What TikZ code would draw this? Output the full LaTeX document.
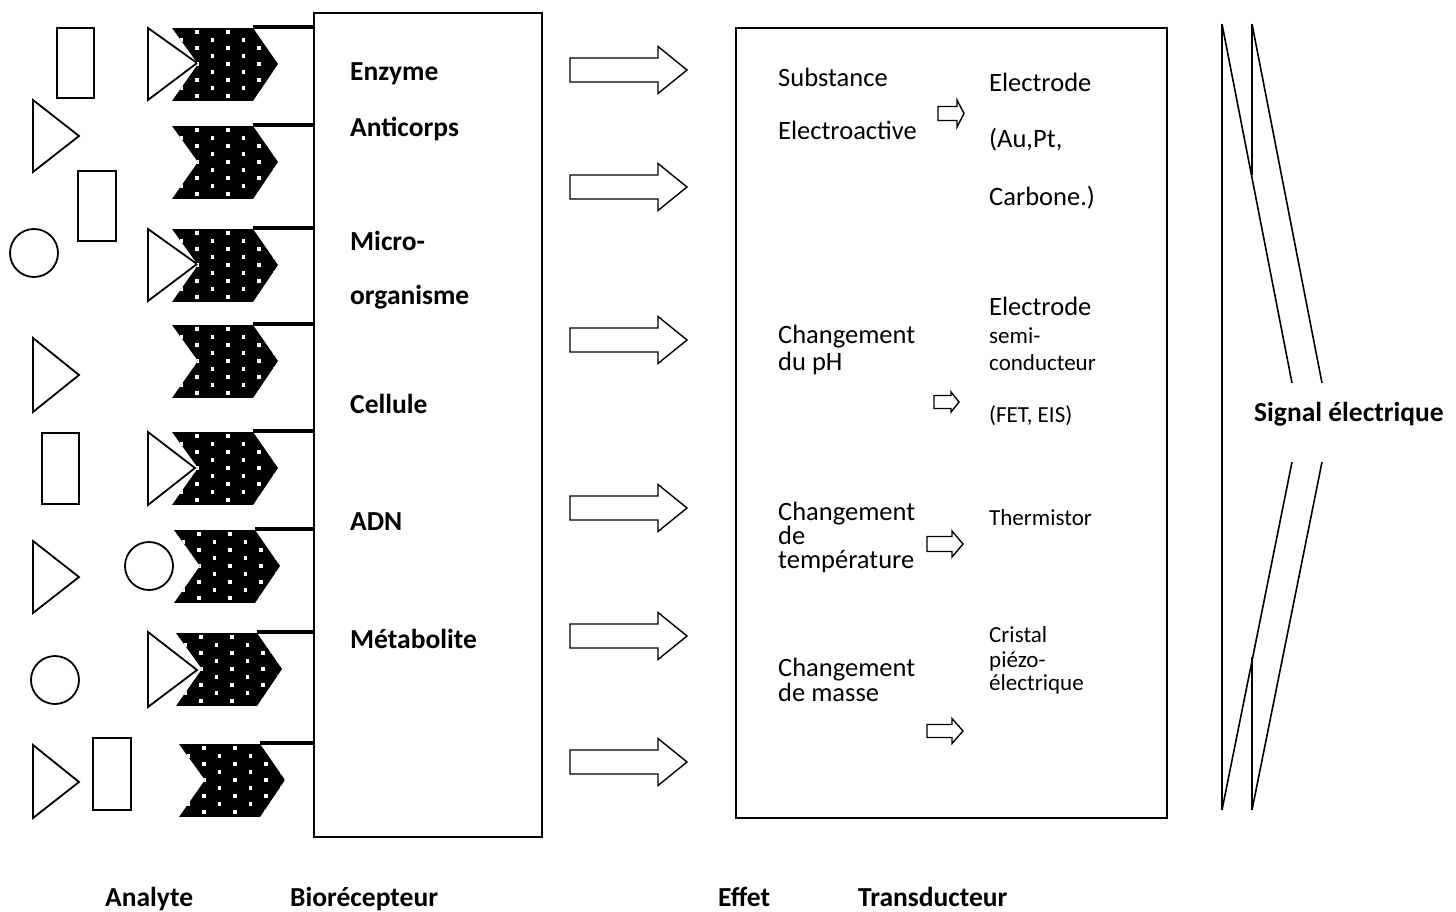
\documentclass[tikz,border=0pt]{standalone}
\usepackage{fontspec}
\setmainfont{Carlito}
\usepackage{tikz}

% recepteur (chevron with white dots) at top-left corner #1,#2
\newcommand{\recep}[2]{%
\begin{scope}[shift={(#1,#2)}]
\begin{scope}
\path[clip] (0,0) -- (81,0) -- (106,36) -- (81,73) -- (0,73) -- (26,36) -- cycle;
\fill[black] (0,0) rectangle (106,73);
\foreach \r in {0,...,8}
  \foreach \c in {-1,...,3}
    \fill[white] ({25+31*\c-15.5*mod(\r,2)-1.6},{4+8*\r-1.6}) rectangle +(3.3,3.3);
\end{scope}
\end{scope}}

% block arrow: tail x, centre y, length, half shaft, head start, half head
\newcommand{\flech}[6]{%
\draw[line width=1.4pt] (#1,#2-#4) -- (#5,#2-#4) -- (#5,#2-#6) -- (#1+#3,#2)
  -- (#5,#2+#6) -- (#5,#2+#4) -- (#1,#2+#4) -- cycle;}

\begin{document}
\begin{tikzpicture}[x=1pt,y=-1pt]
\tikzstyle{analyte}=[draw,line width=1.8pt]
\tikzstyle{link}=[draw,line width=4pt]
\tikzstyle{sig}=[draw,line width=1.6pt]
\tikzstyle{boite}=[draw,line width=2pt,inner sep=0pt]
\tikzstyle{lab}=[font=\fontsize{27.5}{32}\selectfont\bfseries,inner sep=0pt,anchor=base west]
\tikzstyle{txt}=[font=\fontsize{26.5}{31}\selectfont,inner sep=0pt,anchor=base west]
\tikzstyle{petit}=[font=\fontsize{23}{27}\selectfont,inner sep=0pt,anchor=base west]

\useasboundingbox (0,0) rectangle (1456,912);

% boxes
\node[boite,minimum width=228pt,minimum height=824pt] (bio) at (428,425) {};
\node[boite,minimum width=431pt,minimum height=790pt] (trans) at (951.5,423) {};

% analytes
\draw[analyte] (57,28) rectangle (94,98);
\draw[analyte] (33,100) -- (79,136) -- (33,172) -- cycle;
\draw[analyte] (78,171) rectangle (116,241);
\draw[analyte] (34,253) circle (24pt);
\draw[analyte] (33,338) -- (79,375) -- (33,412) -- cycle;
\draw[analyte] (42,433) rectangle (79,504);
\draw[analyte] (33,541) -- (79,577) -- (33,613) -- cycle;
\draw[analyte] (55,680) circle (24pt);
\draw[analyte] (33,745) -- (79,782) -- (33,818) -- cycle;
\draw[analyte] (93,738) rectangle (131,810);

% fixed analytes
\draw[analyte] (148,28) -- (197,63) -- (148,100) -- cycle;
\draw[analyte] (148,229) -- (197,264) -- (148,301) -- cycle;
\draw[analyte] (148,432) -- (195,468) -- (148,505) -- cycle;
\draw[analyte] (149,566) circle (24pt);
\draw[analyte] (148,632) -- (197,670) -- (148,707) -- cycle;

% bioreceptors
\foreach \i/\xx/\yy in {1/172/28,2/172/126,3/172/229,4/172/325,5/172/432,6/174/530,7/176/633,8/179/744}{
  \recep{\xx}{\yy}
  \coordinate (c\i) at (\xx+81,\yy-1);
  \path[link] (c\i) -- (c\i -| bio.west);
}

\node[lab] (enz) at (350,81) {Enzyme};
\node[lab] (anti) at (350,137) {Anticorps};
\node[lab] (micro) at (350,250) {Micro-};
\node[lab] (orga) at (350,304) {organisme};
\node[lab] (cell) at (350,413) {Cellule};
\node[lab] (adn) at (350,530) {ADN};
\node[lab] (meta) at (350,648) {Métabolite};

% effects
\flech{570}{70}{117}{12}{658}{23.5}
\flech{570}{187}{117}{12}{658}{23.5}
\flech{570}{340}{117}{12}{658}{23.5}
\flech{570}{508}{117}{12}{658}{23.5}
\flech{570}{636}{117}{12}{658}{23.5}
\flech{570}{762}{117}{12}{658}{23.5}

% transducteur
\node[txt] (sub) at (778,87) {Substance};
\node[txt] (elac) at (778,140) {Electroactive};
\node[txt] (elec) at (989,92) {Electrode};
\node[txt] (aupt) at (989,148) {(Au,Pt,};
\node[txt] (carb) at (989,206) {Carbone.)};
\flech{938}{113.5}{26}{7}{957}{13.5}

\node[txt] (chph) at (778,343) {Changement};
\node[txt] (duph) at (778,370) {du pH};
\node[txt] (elsc) at (989,315) {Electrode};
\node[petit] (semi) at (989,343) {semi-};
\node[petit] (cond) at (989,370) {conducteur};
\node[petit] (fet) at (989,422) {(FET, EIS)};
\flech{934}{402}{25}{6.5}{951}{10}

\node[txt] (chte) at (778,520) {Changement};
\node[txt] (de) at (778,544) {de};
\node[txt] (temp) at (778,568) {température};
\node[petit] (therm) at (989,525) {Thermistor};
\flech{927}{544}{36}{7.5}{952}{13}

\node[txt] (chma) at (778,676) {Changement};
\node[txt] (mass) at (778,701) {de masse};
\node[petit] (cris) at (989,642) {Cristal};
\node[petit] (piez) at (989,667) {piézo-};
\node[petit] (elq) at (989,690) {électrique};
\flech{927}{731}{36}{6.5}{952}{12.5}

% signal
\path[sig] (1222,24) -- (1222,810);
\path[sig] (1222,24) -- (1292,383);
\path[sig] (1252,24) -- (1252,175);
\path[sig] (1252,24) -- (1322,383);
\path[sig] (1292,462) -- (1222,810);
\path[sig] (1322,462) -- (1252,810);
\path[sig] (1252,657) -- (1252,810);
\node[lab] (signal) at (1254,421) {Signal électrique};

% bottom labels
\node[lab] (ana) at (105,906) {Analyte};
\node[lab] (bior) at (290,906) {Biorécepteur};
\node[lab] (eff) at (718,906) {Effet};
\node[lab] (trd) at (858,906) {Transducteur};
\end{tikzpicture}
\end{document}
